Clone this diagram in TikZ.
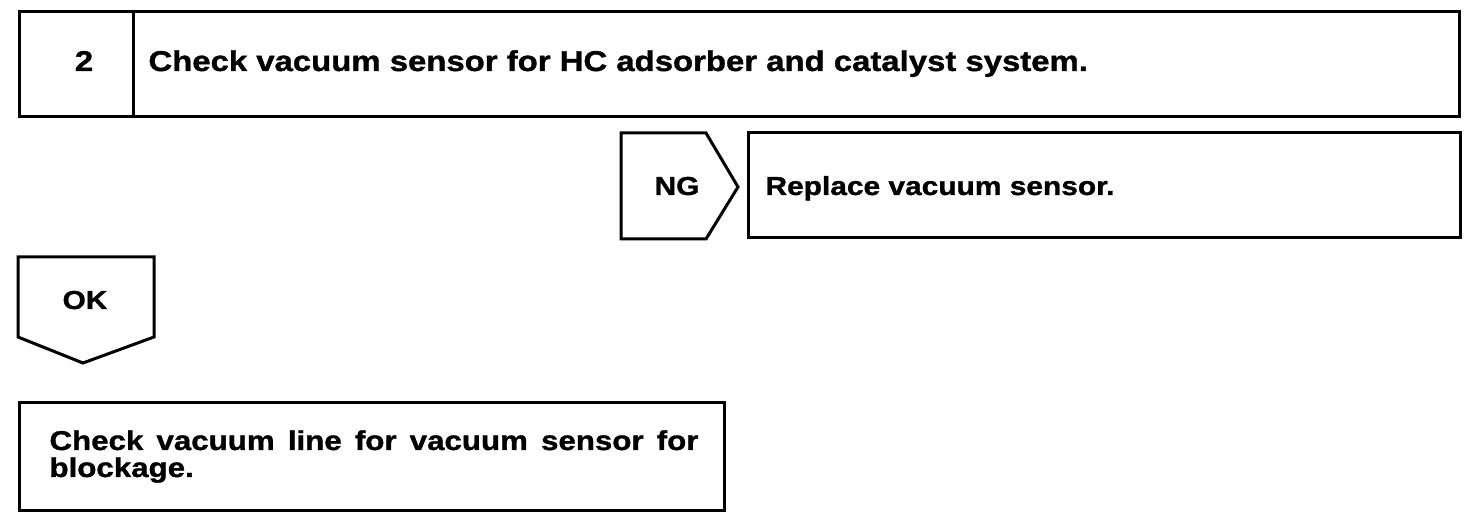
\documentclass[tikz,border=0pt]{standalone}
\usepackage{fontspec}
\setmainfont{Liberation Sans}[FakeStretch=1.15,BoldFeatures={FakeBold=1.2}]
\usetikzlibrary{positioning}
\begin{document}
\begin{tikzpicture}[x=0.5pt,y=-0.5pt,line width=1.5pt,line join=miter]
\tikzset{
  lbl/.style={font=\bfseries\fontsize{13}{13}\selectfont,inner sep=0pt,anchor=base},
  lblw/.style={lbl,anchor=base west},
  headlbl/.style={lblw,font=\bfseries\fontsize{14.3}{14.3}\selectfont}
}
\useasboundingbox (0,0) rectangle (1472,528);
% step header with number cell
\draw (19,12) rectangle (1459,117);
\draw (133,12) -- (133,117);
\node[lbl,font=\bfseries\fontsize{14.3}{14.3}\selectfont] (num) at (84,71) {2};
\node[headlbl] (title) at (147,71) {Check vacuum sensor for HC adsorber and catalyst system.};
% NG branch: arrow tag and action box
\draw (621,133) -- (706,133) -- (738,187) -- (706,239) -- (621,239) -- cycle;
\node[lbl] (ng) at (677,195) {NG};
\draw (748,133) rectangle (1460,238);
\node[lblw] (replace) at (764,195) {Replace vacuum sensor.};
% OK branch: downward tag and next check
\draw (18,257) -- (154,257) -- (154,337) -- (83,363) -- (18,337) -- cycle;
\node[lbl] (ok) at (85,309) {OK};
\draw (19,403) rectangle (724,511);
\node[lbl,anchor=base west,text width=324.5pt,align=justify,
  font=\bfseries\fontsize{13.6}{13.5}\selectfont] (line) at (48,450)
  {Check vacuum line for vacuum sensor for blockage.};
\end{tikzpicture}
\end{document}
